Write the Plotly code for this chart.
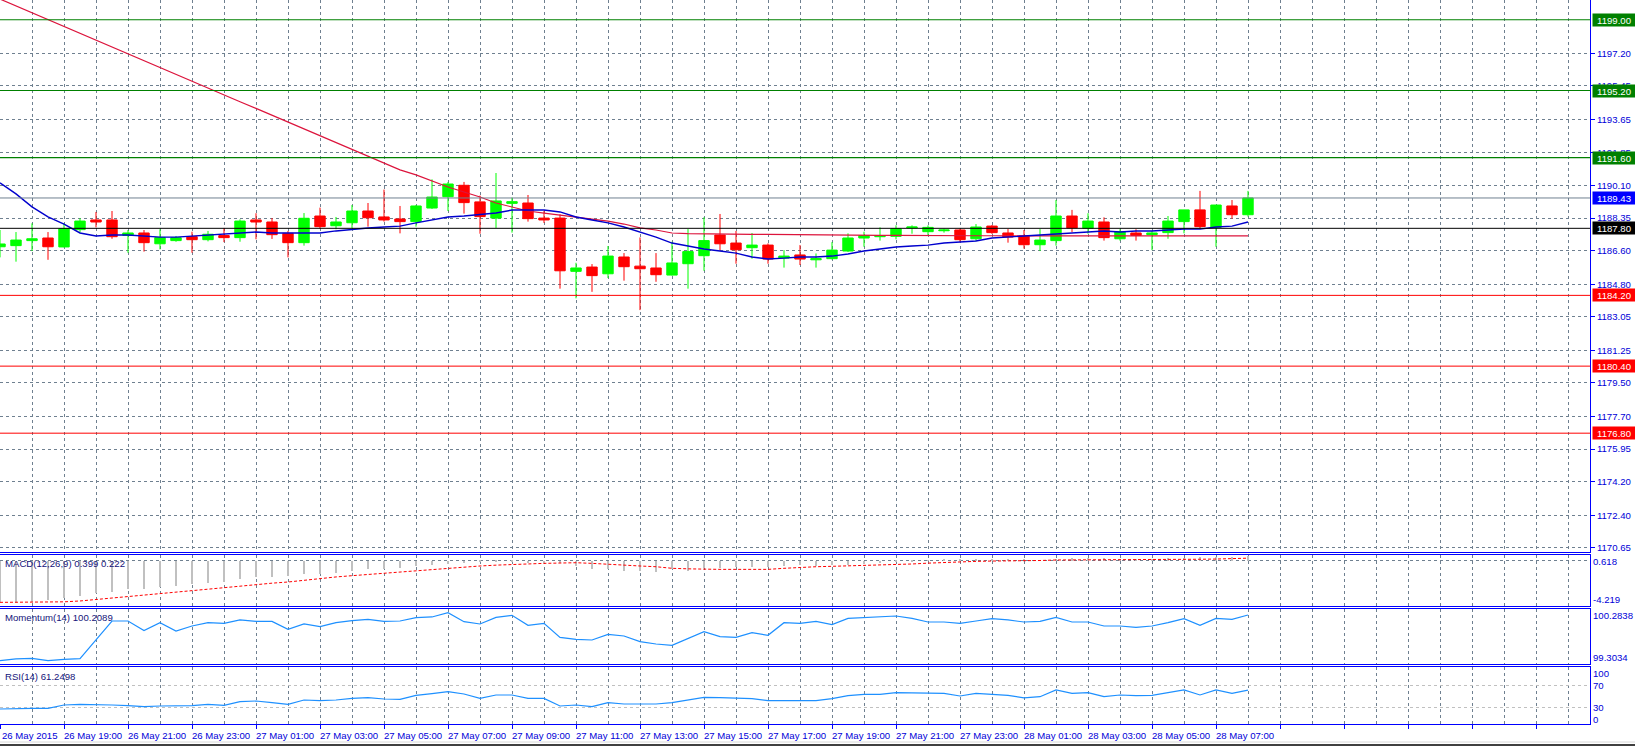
import pandas as pd
import plotly.graph_objects as go
from plotly.subplots import make_subplots

# ---------------- data ----------------
times = pd.date_range("2015-05-26 17:00", periods=79, freq="30min")

open_ = [1186.81, 1186.87, 1187.14, 1187.28, 1186.80, 1187.73, 1188.25, 1188.25, 1187.42, 1187.55,
         1186.97, 1187.14, 1187.35, 1187.19, 1187.41, 1187.30, 1188.25, 1188.14, 1187.53, 1187.03,
         1188.46, 1187.94, 1188.10, 1188.73, 1188.41, 1188.30, 1188.16, 1188.89, 1189.50, 1190.11,
         1189.22, 1188.35, 1189.14, 1189.16, 1188.35, 1188.35, 1185.49, 1185.72, 1185.36, 1186.26,
         1185.77, 1185.67, 1185.29, 1185.90, 1186.33, 1187.44, 1187.01, 1186.76, 1186.90, 1186.20,
         1186.37, 1186.11, 1186.17, 1186.58, 1187.28, 1187.35, 1187.37, 1187.82, 1187.62, 1187.67,
         1187.71, 1187.24, 1187.92, 1187.55, 1187.39, 1186.92, 1187.14, 1188.46, 1187.80, 1188.14,
         1187.24, 1187.55, 1187.46, 1187.57, 1188.16, 1188.79, 1187.85, 1189.00, 1188.53]
high = [1187.71, 1187.60, 1188.07, 1187.60, 1188.07, 1188.34, 1188.68, 1188.73, 1187.71, 1187.71,
        1187.75, 1187.39, 1187.62, 1187.66, 1187.82, 1188.28, 1188.61, 1188.35, 1187.66, 1188.62,
        1188.91, 1188.41, 1189.05, 1189.16, 1189.88, 1189.00, 1189.05, 1190.43, 1190.29, 1190.29,
        1189.56, 1190.77, 1189.45, 1189.59, 1188.73, 1188.55, 1185.95, 1185.88, 1186.85, 1186.47,
        1187.31, 1186.47, 1187.08, 1187.76, 1188.39, 1188.57, 1187.66, 1187.55, 1186.99, 1186.63,
        1186.90, 1186.45, 1187.06, 1187.53, 1187.62, 1187.85, 1187.96, 1187.96, 1187.96, 1187.78,
        1187.78, 1188.03, 1187.98, 1187.76, 1187.71, 1187.76, 1189.32, 1188.79, 1188.61, 1188.39,
        1187.75, 1187.75, 1187.66, 1188.46, 1188.79, 1189.81, 1189.05, 1189.32, 1189.81]
low = [1186.24, 1186.01, 1186.58, 1186.11, 1186.78, 1187.57, 1187.85, 1187.24, 1186.49, 1186.55,
       1186.67, 1187.08, 1186.49, 1187.10, 1187.06, 1187.08, 1187.21, 1187.23, 1186.24, 1186.87,
       1187.78, 1187.75, 1187.82, 1187.89, 1188.16, 1187.53, 1187.89, 1188.84, 1188.73, 1188.59,
       1187.51, 1187.82, 1187.57, 1188.16, 1188.09, 1184.56, 1184.04, 1184.39, 1185.13, 1184.99,
       1183.41, 1184.93, 1185.27, 1184.56, 1185.52, 1186.60, 1185.90, 1186.17, 1185.90, 1185.69,
       1185.83, 1185.69, 1186.13, 1186.53, 1186.81, 1187.14, 1187.21, 1187.51, 1187.41, 1187.57,
       1187.06, 1187.12, 1187.50, 1187.03, 1186.71, 1186.58, 1186.87, 1187.60, 1187.51, 1187.14,
       1187.14, 1187.14, 1186.63, 1187.24, 1187.53, 1187.76, 1186.81, 1188.32, 1188.43]
close = [1186.96, 1187.17, 1187.24, 1186.81, 1187.78, 1188.19, 1188.14, 1187.35, 1187.55, 1187.03,
         1187.31, 1187.30, 1187.19, 1187.48, 1187.30, 1188.19, 1188.14, 1187.46, 1187.03, 1188.34,
         1187.89, 1188.14, 1188.73, 1188.37, 1188.25, 1188.16, 1189.00, 1189.48, 1190.18, 1189.18,
         1188.43, 1189.27, 1189.23, 1188.32, 1188.25, 1185.52, 1185.67, 1185.26, 1186.31, 1185.74,
         1185.63, 1185.31, 1185.94, 1186.55, 1187.14, 1186.97, 1186.65, 1186.90, 1186.15, 1186.31,
         1186.15, 1186.17, 1186.63, 1187.28, 1187.41, 1187.41, 1187.78, 1187.87, 1187.85, 1187.71,
         1187.19, 1187.87, 1187.57, 1187.33, 1186.92, 1187.17, 1188.46, 1187.82, 1188.19, 1187.30,
         1187.62, 1187.42, 1187.55, 1188.19, 1188.79, 1187.89, 1189.05, 1188.53, 1189.43]

ma_slow = [1200.11, 1199.74, 1199.38, 1199.01, 1198.64, 1198.28, 1197.91, 1197.54, 1197.17, 1196.81,
           1196.44, 1196.07, 1195.71, 1195.34, 1194.97, 1194.60, 1194.24, 1193.87, 1193.50, 1193.14,
           1192.77, 1192.40, 1192.04, 1191.67, 1191.30, 1190.94, 1190.67, 1190.34, 1190.02, 1189.75,
           1189.48, 1189.16, 1188.95, 1188.73, 1188.62, 1188.52, 1188.41, 1188.30, 1188.19, 1188.03,
           1187.82, 1187.71, 1187.55, 1187.52, 1187.52, 1187.50, 1187.49, 1187.48, 1187.47, 1187.46,
           1187.44, 1187.44, 1187.43, 1187.43, 1187.42, 1187.42, 1187.42, 1187.41, 1187.41, 1187.41,
           1187.40, 1187.40, 1187.40, 1187.40, 1187.40, 1187.39, 1187.39, 1187.39, 1187.39, 1187.39,
           1187.39, 1187.39, 1187.39, 1187.39, 1187.39, 1187.39, 1187.39, 1187.39, 1187.39]
ma_fast = [1190.24, 1189.65, 1188.95, 1188.41, 1188.03, 1187.55, 1187.39, 1187.44, 1187.44, 1187.39,
           1187.33, 1187.33, 1187.39, 1187.44, 1187.49, 1187.55, 1187.60, 1187.55, 1187.55, 1187.55,
           1187.55, 1187.66, 1187.76, 1187.82, 1187.87, 1187.92, 1188.09, 1188.25, 1188.41, 1188.46,
           1188.52, 1188.62, 1188.78, 1188.78, 1188.78, 1188.68, 1188.41, 1188.25, 1188.09, 1187.87,
           1187.60, 1187.33, 1187.01, 1186.85, 1186.69, 1186.58, 1186.47, 1186.26, 1186.15, 1186.20,
           1186.26, 1186.26, 1186.31, 1186.42, 1186.58, 1186.69, 1186.80, 1186.85, 1186.90, 1187.01,
           1187.06, 1187.12, 1187.28, 1187.33, 1187.39, 1187.44, 1187.49, 1187.55, 1187.60, 1187.66,
           1187.60, 1187.66, 1187.66, 1187.71, 1187.76, 1187.76, 1187.87, 1187.92, 1188.14]

macd_main = [-3.91, -4.00, -3.94, -3.75, -3.59, -3.37, -3.11, -2.96, -2.73, -2.67,
             -2.48, -2.39, -2.26, -2.10, -2.01, -1.78, -1.59, -1.53, -1.47, -1.31,
             -1.28, -1.15, -0.96, -0.83, -0.80, -0.68, -0.52, -0.40, -0.33, -0.21,
             -0.17, -0.14, -0.14, -0.21, -0.20, -0.27, -0.52, -0.84, -0.84, -0.96,
             -0.96, -1.06, -0.84, -0.96, -0.74, -0.74, -0.59, -0.65, -0.59, -0.52,
             -0.43, -0.52, -0.43, -0.40, -0.30, -0.20, -0.10, -0.05, 0.02, 0.05,
             0.05, 0.10, 0.12, 0.10, 0.05, 0.02, 0.15, 0.20, 0.25, 0.20,
             0.18, 0.16, 0.15, 0.20, 0.28, 0.30, 0.35, 0.36, 0.399]
macd_signal = [-3.97, -3.97, -3.97, -3.97, -3.92, -3.84, -3.70, -3.59, -3.43, -3.32,
               -3.21, -3.04, -2.86, -2.72, -2.58, -2.42, -2.26, -2.15, -2.04, -1.86,
               -1.69, -1.56, -1.44, -1.32, -1.21, -1.10, -0.97, -0.84, -0.73, -0.62,
               -0.52, -0.44, -0.36, -0.31, -0.27, -0.24, -0.21, -0.27, -0.33, -0.42,
               -0.52, -0.59, -0.74, -0.79, -0.84, -0.84, -0.84, -0.84, -0.84, -0.74,
               -0.65, -0.59, -0.55, -0.52, -0.45, -0.40, -0.36, -0.33, -0.25, -0.18,
               -0.11, -0.08, -0.05, -0.05, -0.05, 0.00, 0.05, 0.05, 0.05, 0.05,
               0.05, 0.05, 0.05, 0.05, 0.11, 0.12, 0.14, 0.18, 0.222]

momentum = [99.310, 99.343, 99.356, 99.310, 99.336, 99.349, 99.717, 100.091, 100.091, 99.901,
            100.058, 99.894, 99.992, 100.058, 100.045, 100.111, 100.084, 100.084, 99.927, 100.032,
            99.979, 100.058, 100.097, 100.124, 100.084, 100.091, 100.156, 100.170, 100.255, 100.078,
            100.032, 100.163, 100.202, 100.005, 100.045, 99.769, 99.730, 99.717, 99.828, 99.796,
            99.684, 99.638, 99.612, 99.750, 99.881, 99.782, 99.769, 99.861, 99.809, 100.058,
            100.045, 100.084, 100.019, 100.143, 100.156, 100.176, 100.189, 100.143, 100.071, 100.071,
            100.045, 100.091, 100.137, 100.111, 100.071, 100.084, 100.163, 100.071, 100.071, 99.992,
            99.992, 99.966, 99.992, 100.058, 100.137, 100.005, 100.143, 100.124, 100.2089]

rsi = [26.9, 28.1, 28.1, 28.1, 34.2, 35.4, 35.4, 34.2, 33.0, 31.1,
       32.4, 33.0, 33.0, 35.4, 33.6, 40.2, 41.5, 38.4, 35.4, 43.3,
       42.1, 43.3, 46.3, 47.5, 45.1, 44.5, 51.8, 54.8, 58.4, 54.2,
       46.3, 52.4, 52.4, 46.3, 46.3, 32.4, 34.2, 31.1, 38.4, 36.0,
       35.4, 36.0, 38.4, 43.3, 48.1, 47.5, 46.3, 45.7, 42.1, 42.1,
       42.1, 42.1, 45.7, 51.2, 53.6, 53.6, 56.6, 56.6, 56.6, 55.4,
       50.6, 55.4, 53.6, 51.8, 47.0, 49.3, 61.5, 55.4, 56.6, 49.3,
       52.4, 51.2, 51.8, 56.6, 61.5, 52.4, 61.5, 55.4, 61.25]

price_ticks = [1170.65, 1172.40, 1174.20, 1175.95, 1177.70, 1179.50, 1181.25, 1183.05,
               1184.80, 1186.60, 1188.35, 1190.10, 1191.85, 1193.65, 1195.45, 1197.20]

resistance_levels = [1199.00, 1195.20, 1191.60]
support_levels = [1184.20, 1180.40, 1176.80]
pivot_level = 1187.80
bid_level = 1189.43

x_label_idx = [0, 4, 8, 12, 16, 20, 24, 28, 32, 36, 40, 44, 48, 52, 56, 60, 64, 68, 72, 76]
x_labels = ["26 May 2015", "26 May 19:00", "26 May 21:00", "26 May 23:00", "27 May 01:00",
            "27 May 03:00", "27 May 05:00", "27 May 07:00", "27 May 09:00", "27 May 11:00",
            "27 May 13:00", "27 May 15:00", "27 May 17:00", "27 May 19:00", "27 May 21:00",
            "27 May 23:00", "28 May 01:00", "28 May 03:00", "28 May 05:00", "28 May 07:00"]

macd_scale_labels = ["0.618", "-4.219"]
mom_scale_labels = ["100.2838", "99.3034"]
rsi_scale_labels = ["100", "0"]

# ---------------- layout constants ----------------
W, H = 1635, 746
MR, MB = 45, 22
PW, PH = W - MR, H - MB
BAR_PX = 16
FONT = "Liberation Sans"
AXC = "#0000FF"
TXT = "#0000D8"
GRID = "#6F8090"


def py(ypx):
    return 1 - ypx / PH


def pxf(xpx):
    return xpx / PW


fig = make_subplots(rows=4, cols=1, shared_xaxes=True, vertical_spacing=0)

fig.add_trace(go.Candlestick(
    x=times, open=open_, high=high, low=low, close=close,
    increasing=dict(line=dict(color="#00FF00", width=1), fillcolor="#00FF00"),
    decreasing=dict(line=dict(color="#FF0000", width=1), fillcolor="#FF0000"),
    whiskerwidth=0, name="XAUUSD"), row=1, col=1)
fig.add_trace(go.Scatter(x=times, y=ma_slow, mode="lines",
                         line=dict(color="#DC143C", width=1.2), name="MA slow"), row=1, col=1)
fig.add_trace(go.Scatter(x=times, y=ma_fast, mode="lines",
                         line=dict(color="#0000CD", width=1.4), name="MA fast"), row=1, col=1)

bar_ms = 30 * 60 * 1000 * 1.6 / BAR_PX
fig.add_trace(go.Bar(x=times, y=macd_main, marker=dict(color="#C0C0C0", line=dict(width=0)),
                     width=bar_ms, name="MACD"), row=2, col=1)
fig.add_trace(go.Scatter(x=times, y=macd_signal, mode="lines",
                         line=dict(color="#FF0000", width=1, dash="3px,2px"), name="Signal"), row=2, col=1)
fig.add_trace(go.Scatter(x=times, y=momentum, mode="lines",
                         line=dict(color="#1E90FF", width=1.2), name="Momentum"), row=3, col=1)
fig.add_trace(go.Scatter(x=times, y=rsi, mode="lines",
                         line=dict(color="#1E90FF", width=1.2), name="RSI"), row=4, col=1)

x_end = times[0] + pd.Timedelta(minutes=30) * (PW / BAR_PX)
hour_ms = 3600000

for r in range(1, 5):
    fig.update_xaxes(
        row=r, col=1, type="date", range=[times[0], x_end],
        rangeslider_visible=False, showticklabels=False,
        tick0=times[0], dtick=2 * hour_ms,
        showgrid=True, gridcolor=GRID, griddash="3px,3px", gridwidth=1,
        minor=dict(dtick=hour_ms, tick0=times[0], showgrid=True, gridcolor=GRID,
                   griddash="3px,3px", gridwidth=1),
        showline=True, linecolor=AXC, linewidth=1, mirror=(r > 1),
        ticks="outside" if r == 4 else "", ticklen=4, tickcolor=AXC, zeroline=False,
    )

fig.update_layout(
    width=W, height=H, margin=dict(l=0, r=MR, t=0, b=MB),
    paper_bgcolor="white", plot_bgcolor="white", showlegend=False,
    font=dict(family=FONT, size=10, color=TXT),
    boxgap=0.35, boxgroupgap=0,
    yaxis=dict(domain=[py(552), 1], side="right", range=[1170.42, 1200.06],
               tickvals=price_ticks, ticktext=[f"{v:.2f}" for v in price_ticks],
               tickfont=dict(family=FONT, size=9.6, color=TXT),
               ticks="outside", ticklen=4, tickcolor=AXC,
               showgrid=True, gridcolor=GRID, griddash="3px,3px", zeroline=False,
               showline=True, linecolor=AXC, linewidth=1),
    yaxis2=dict(domain=[py(606), py(555)], side="right", range=[-4.316, 0.523],
                tickvals=[0], showticklabels=False, ticks="",
                showgrid=True, gridcolor=GRID, griddash="3px,3px", zeroline=False,
                showline=True, linecolor=AXC, linewidth=1),
    yaxis3=dict(domain=[py(664), py(609)], side="right", range=[99.244, 100.327],
                showticklabels=False, ticks="", showgrid=False, zeroline=False,
                showline=True, linecolor=AXC, linewidth=1),
    yaxis4=dict(domain=[py(724), py(667)], side="right", range=[-0.36, 103.3],
                tickvals=[70, 30], ticktext=["70", "30"], ticks="",
                tickfont=dict(family=FONT, size=9.6, color=TXT),
                showgrid=True, gridcolor="#C0C0C0", griddash="3px,3px", zeroline=False,
                showline=True, linecolor=AXC, linewidth=1),
    bargap=0,
)

# horizontal level lines in main panel
shapes = []
level_specs = ([(v, "#008000", "#008000") for v in resistance_levels]
               + [(bid_level, "#708090", "#0000FF"), (pivot_level, "#000000", "#000000")]
               + [(v, "#FF0000", "#FF0000") for v in support_levels])
for v, lc, _ in level_specs:
    shapes.append(dict(type="line", xref="paper", yref="y", x0=0, x1=1, y0=v, y1=v,
                       line=dict(color=lc, width=1.2 if lc == "#008000" else 1), layer="above"))
# footer lines
shapes.append(dict(type="line", xref="paper", yref="paper", x0=0, x1=W / PW,
                   y0=py(742), y1=py(742), line=dict(color="#D8D8D8", width=1)))
shapes.append(dict(type="line", xref="paper", yref="paper", x0=0, x1=W / PW,
                   y0=py(745), y1=py(745), line=dict(color="#000000", width=1.5)))
fig.update_layout(shapes=shapes)

ann = []
for v, _, bg in level_specs:
    ann.append(dict(x=1, xref="paper", y=v, yref="y", xanchor="left", yanchor="middle",
                    xshift=2, text=f"{v:.2f}", showarrow=False, bgcolor=bg, borderpad=1,
                    width=40, height=10, align="center",
                    font=dict(family=FONT, size=9.6, color="white")))

side_labels = [(macd_scale_labels[0], 561), (macd_scale_labels[1], 599),
               (mom_scale_labels[0], 615), (mom_scale_labels[1], 657),
               (rsi_scale_labels[0], 673), (rsi_scale_labels[1], 719)]
for t, ypx in side_labels:
    ann.append(dict(x=1, xref="paper", y=py(ypx), yref="paper", xanchor="left", yanchor="middle",
                    xshift=1, text=t, showarrow=False,
                    font=dict(family=FONT, size=9.6, color=TXT)))

panel_titles = [("MACD(12,26,9) 0.399 0.222", 563), ("Momentum(14) 100.2089", 617),
                ("RSI(14) 61.2498", 676)]
for t, ypx in panel_titles:
    ann.append(dict(x=pxf(3), xref="paper", y=py(ypx), yref="paper", xanchor="left",
                    yanchor="middle", text=t, showarrow=False,
                    font=dict(family=FONT, size=9.6, color="#14147A")))

for k, (idx, t) in enumerate(zip(x_label_idx, x_labels)):
    ann.append(dict(x=times[idx], xref="x", y=py(735), yref="paper", xanchor="left",
                    yanchor="middle", xshift=(0 if k == 0 else -2), text=t, showarrow=False,
                    font=dict(family=FONT, size=9.6, color=TXT)))

fig.update_layout(annotations=ann)

fig.write_html("out.html", config={"displayModeBar": False})
